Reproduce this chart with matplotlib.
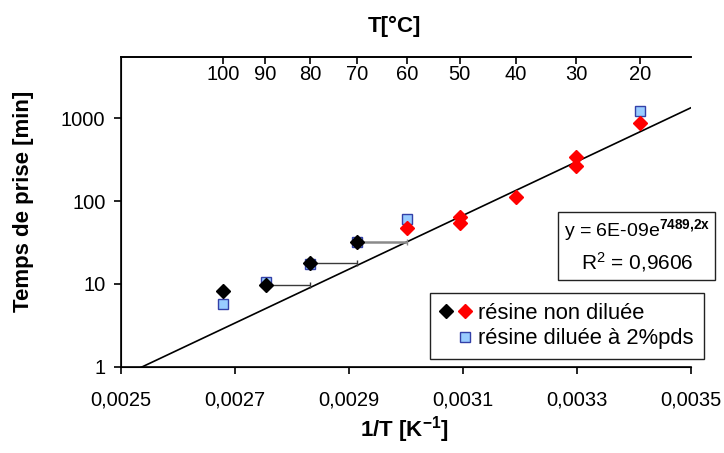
import numpy as np
import matplotlib
matplotlib.use("Agg")
import matplotlib.pyplot as plt
from matplotlib.lines import Line2D
from matplotlib.legend_handler import HandlerTuple
from matplotlib.patches import Rectangle

plt.rcParams['font.family'] = ['Liberation Sans', 'DejaVu Sans']
plt.rcParams['mathtext.fontset'] = 'custom'
plt.rcParams['mathtext.rm'] = 'Liberation Sans'
plt.rcParams['mathtext.bf'] = 'Liberation Sans:bold'
plt.rcParams['mathtext.it'] = 'Liberation Sans:italic'

# ---- data ----
# black diamonds: résine non diluée, high temperatures
black_x = [0.002680, 0.002754, 0.002832, 0.002914]
black_y = [8.2, 9.6, 17.7, 31.8]
# red diamonds: résine non diluée
red_x = [0.003002, 0.003095, 0.003095, 0.003193, 0.003299, 0.003299, 0.003411]
red_y = [46.9, 63.7, 53.9, 113, 344, 265, 871]
# blue squares: résine diluée à 2%pds
blue_x = [0.002680, 0.002754, 0.002832, 0.002914, 0.003002, 0.003411]
blue_y = [5.7, 10.5, 17.2, 32.3, 60.8, 1216]
# horizontal error bars (plus side only) on black points 90, 80, 70 °C
err_x = [0.002754, 0.002832, 0.002914]
err_y = [9.6, 17.7, 31.8]
err_plus = [0.000078, 0.000082, 0.000088]
# exponential trend line y = a * exp(b x)
trend_a = 5.55e-9
trend_b = 7489.2
# top axis: temperatures in °C and their 1/T positions
top_labels = ['100', '90', '80', '70', '60', '50', '40', '30', '20']
top_pos = [0.0026799, 0.0027537, 0.0028317, 0.0029142, 0.0030017,
           0.0030945, 0.0031934, 0.0032987, 0.0034112]
x_ticks = [0.0025, 0.0027, 0.0029, 0.0031, 0.0033, 0.0035]
x_ticklabels = ['0,0025', '0,0027', '0,0029', '0,0031', '0,0033', '0,0035']
y_ticks = [1, 10, 100, 1000]
y_ticklabels = ['1', '10', '100', '1000']

W, H = 724, 453
fig = plt.figure(figsize=(W / 100, H / 100), dpi=100)
L, R, T, B = 120.7, 691, 56.7, 366.7
ax = fig.add_axes([L / W, 1 - B / H, (R - L) / W, (B - T) / H])

ax.set_xlim(0.0025, 0.0035)
ax.set_yscale('log')
ax.set_ylim(1, 5550)

# trend line
xt = np.linspace(0.0025, 0.0035, 200)
ax.plot(xt, trend_a * np.exp(trend_b * xt), color='black', lw=1.2, zorder=2)

# error bars
cols = ['#3a3a3a', '#3a3a3a', '#8a8a8a']
lws = [1.0, 1.0, 1.8]
for i in range(len(err_x)):
    ax.errorbar([err_x[i]], [err_y[i]], xerr=[[0], [err_plus[i]]], fmt='none',
                ecolor=cols[i], elinewidth=lws[i], capsize=2.2, capthick=1.0, zorder=3)

sq = ax.plot(blue_x, blue_y, ls='none', marker='s', ms=7, mfc='#99ccff',
             mec='#3340a8', mew=1.0, zorder=4)[0]
bk = ax.plot(black_x, black_y, ls='none', marker='D', ms=7, mfc='black',
             mec='black', zorder=5)[0]
rd = ax.plot(red_x, red_y, ls='none', marker='D', ms=7, mfc='red',
             mec='red', zorder=5)[0]

ax.spines['right'].set_visible(False)
for s in ['left', 'bottom', 'top']:
    ax.spines[s].set_linewidth(1.2)
ax.set_xticks(x_ticks)
ax.set_xticklabels(x_ticklabels)
ax.set_yticks(y_ticks)
ax.set_yticklabels(y_ticklabels)
ax.yaxis.set_minor_locator(matplotlib.ticker.NullLocator())
ax.tick_params(axis='both', direction='out', length=5, width=1.2, labelsize=14.5)
ax.tick_params(axis='x', top=False, pad=12)
ax.tick_params(axis='y', pad=6)

ax2 = ax.twiny()
ax2.set_xlim(ax.get_xlim())
ax2.set_xticks(top_pos)
ax2.set_xticklabels(top_labels)
ax2.tick_params(axis='x', direction='in', length=5, width=1.2, labelsize=14.5, pad=-20)
ax2.spines['right'].set_visible(False)
ax2.spines['top'].set_linewidth(1.2)

# axis titles
fig.text(394.5 / W, 1 - 26.5 / H, 'T[°C]', fontsize=16, fontweight='bold',
         ha='center', va='center')
fig.text(24 / W, 1 - 201.7 / H, 'Temps de prise [min]', fontsize=16, fontweight='bold',
         rotation=90, ha='center', va='center')
fig.text(404 / W, 1 - 430 / H, r'1/T [K$^{\mathbf{-1}}$]', fontsize=16, fontweight='bold',
         ha='center', va='center')

# equation box
fig.patches.append(Rectangle((558.3 / W, 1 - 280 / H), (715 - 558.3) / W, (280 - 211.7) / H,
                             transform=fig.transFigure, fill=False, edgecolor='#222222', lw=1.0))
fig.text(637 / W, 1 - 230.5 / H, r'y = 6E-09e$^{\mathbf{7489{,}2x}}$', fontsize=14,
         ha='center', va='center')
fig.text(637 / W, 1 - 261.7 / H, r'R$^{2}$ = 0,9606', fontsize=15, ha='center', va='center')

# legend
blank = Line2D([], [], ls='none', marker=None)
leg = ax.legend([(bk, rd), (blank, sq)], ['résine non diluée', 'résine diluée à 2%pds'],
                handler_map={tuple: HandlerTuple(ndivide=None, pad=0.3)},
                loc='upper left', bbox_to_anchor=(430 / W, 1 - 293 / H),
                bbox_transform=fig.transFigure, borderaxespad=0, fancybox=False,
                edgecolor='#222222', framealpha=1, fontsize=15.8, handlelength=1.4,
                handletextpad=0.35, borderpad=0.45, labelspacing=0.2)
leg.get_frame().set_linewidth(1.0)
leg.set_zorder(10)

fig.savefig('out.png', dpi=100)
